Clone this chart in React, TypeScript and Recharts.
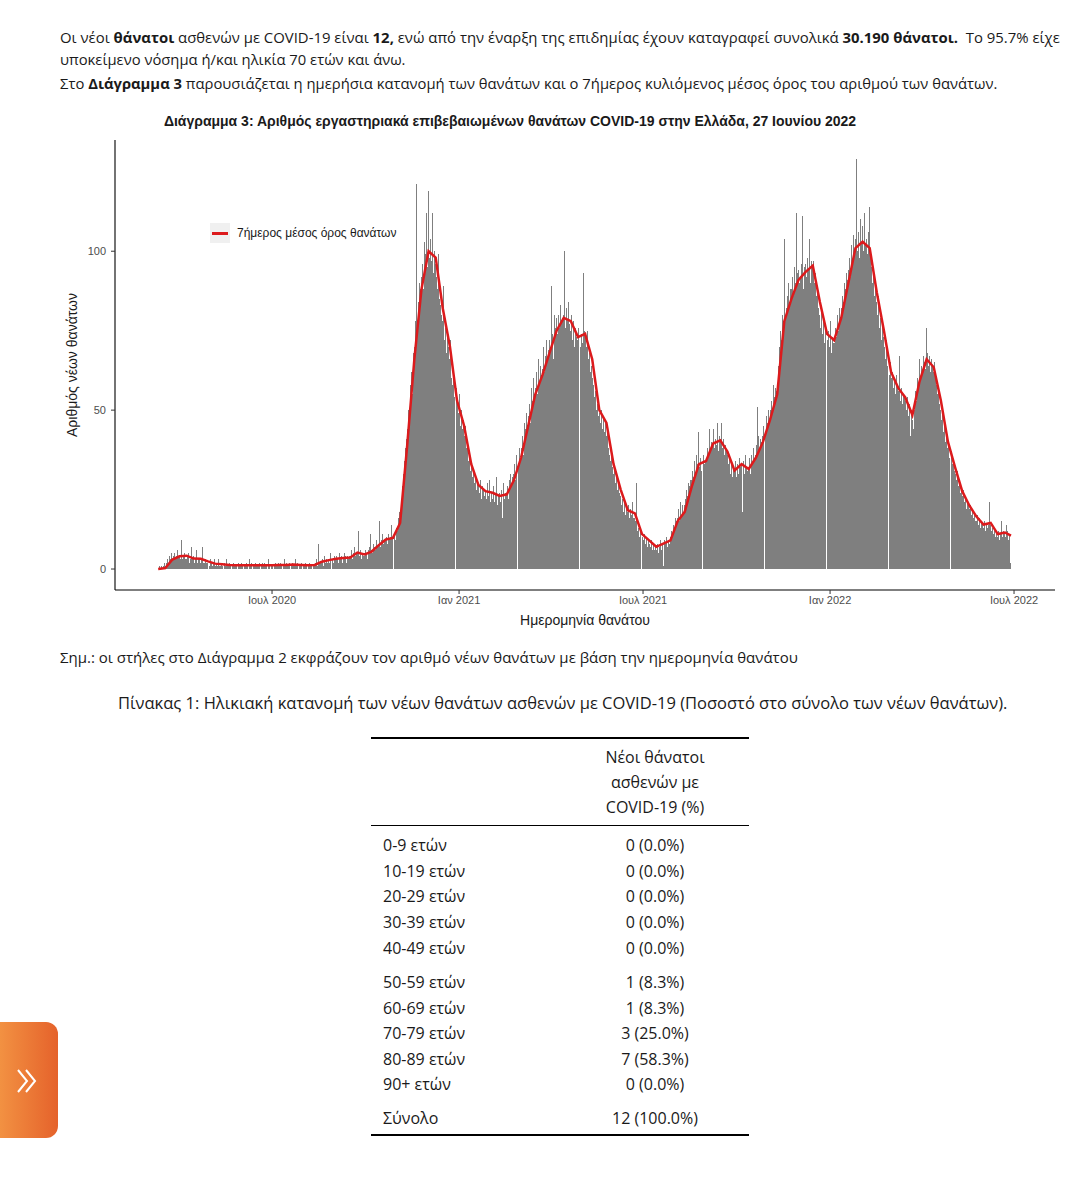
import { Bar, ComposedChart, Line, XAxis, YAxis } from "recharts";

// daily new deaths, one row per week, starting 11 March 2020
const dailyDeaths: number[] = [
  0, 1, 0, 1, 0, 1, 2,
  1, 2, 3, 2, 4, 3, 5,
  3, 4, 5, 3, 4, 6, 4,
  4, 3, 9, 3, 4, 5, 3,
  3, 4, 5, 2, 3, 7, 3,
  4, 2, 3, 6, 2, 3, 3,
  2, 3, 7, 2, 2, 3, 2,
  2, 1, 3, 2, 1, 2, 3,
  1, 2, 1, 3, 1, 1, 2,
  1, 0, 2, 1, 3, 1, 1,
  2, 1, 0, 1, 2, 1, 1,
  1, 0, 2, 1, 1, 2, 1,
  0, 1, 1, 2, 1, 0, 3,
  1, 2, 0, 1, 1, 2, 1,
  1, 1, 2, 0, 1, 2, 1,
  2, 1, 1, 0, 3, 1, 1,
  1, 0, 1, 2, 1, 1, 2,
  1, 2, 1, 0, 1, 3, 1,
  2, 1, 1, 2, 0, 1, 2,
  1, 1, 3, 1, 2, 0, 1,
  1, 2, 0, 1, 1, 2, 1,
  0, 1, 2, 1, 1, 0, 1,
  1, 2, 3, 1, 8, 2, 2,
  2, 3, 1, 4, 2, 3, 2,
  3, 2, 5, 3, 2, 4, 3,
  4, 3, 2, 5, 3, 4, 2,
  3, 5, 4, 2, 4, 3, 4,
  4, 6, 3, 5, 7, 4, 5,
  5, 12, 4, 6, 3, 5, 4,
  4, 6, 5, 3, 6, 7, 11,
  6, 5, 8, 7, 6, 9, 7,
  8, 15, 7, 9, 11, 8, 9,
  9, 10, 8, 11, 9, 10, 14,
  10, 11, 9, 13, 12, 16, 18,
  18, 22, 26, 30, 34, 38, 41,
  44, 50, 47, 58, 62, 55, 68,
  70, 78, 121, 74, 84, 90, 88,
  92, 96, 88, 103, 99, 112, 95,
  119, 98, 104, 97, 112, 93, 100,
  96, 92, 88, 99, 85, 83, 80,
  78, 89, 72, 76, 68, 74, 70,
  66, 72, 60, 58, 63, 54, 57,
  52, 49, 55, 45, 50, 44, 47,
  42, 45, 38, 40, 34, 36, 31,
  33, 29, 31, 27, 30, 25, 28,
  27, 24, 28, 22, 26, 25, 23,
  25, 22, 27, 23, 28, 21, 24,
  22, 26, 21, 24, 29, 20, 23,
  24, 21, 25, 16, 27, 22, 24,
  24, 26, 22, 28, 30, 27, 29,
  30, 33, 28, 36, 32, 38, 35,
  38, 42, 36, 46, 44, 49, 45,
  48, 52, 46, 57, 53, 60, 55,
  57, 62, 55, 66, 58, 64, 60,
  63, 70, 62, 67, 72, 65, 69,
  72, 70, 89, 74, 66, 80, 76,
  79, 74, 80, 76, 83, 78, 79,
  80, 100, 76, 82, 78, 84, 77,
  75, 80, 72, 78, 70, 76, 73,
  72, 76, 70, 74, 71, 93, 75,
  73, 70, 75, 66, 68, 62, 64,
  60, 58, 54, 56, 50, 52, 48,
  49, 46, 50, 44, 48, 43, 47,
  42, 44, 38, 36, 34, 37, 32,
  30, 32, 27, 29, 25, 28, 24,
  23, 20, 22, 18, 21, 17, 19,
  18, 20, 16, 19, 17, 21, 16,
  16, 15, 27, 12, 13, 10, 12,
  10, 9, 11, 8, 10, 7, 9,
  8, 7, 9, 6, 8, 6, 7,
  6, 8, 5, 7, 9, 6, 8,
  1, 9, 8, 10, 7, 9, 8,
  10, 12, 11, 14, 13, 16, 15,
  16, 19, 15, 21, 17, 20, 18,
  20, 22, 25, 23, 27, 26, 28,
  28, 31, 29, 34, 30, 36, 33,
  43, 32, 35, 31, 36, 33, 34,
  35, 38, 36, 44, 37, 40, 39,
  44, 38, 41, 39, 46, 37, 42,
  40, 46, 38, 41, 36, 39, 37,
  36, 33, 35, 30, 34, 29, 32,
  31, 34, 29, 33, 30, 35, 32,
  33, 18, 34, 30, 36, 32, 31,
  32, 35, 30, 36, 33, 38, 34,
  36, 39, 51, 42, 38, 41, 40,
  42, 45, 43, 48, 46, 50, 47,
  50, 53, 49, 58, 54, 57, 56,
  58, 64, 70, 75, 72, 80, 78,
  104, 80, 82, 86, 90, 84, 88,
  88, 92, 86, 95, 90, 112, 93,
  94, 90, 92, 96, 111, 88, 95,
  96, 92, 98, 94, 104, 90, 97,
  95, 97, 90, 93, 86, 88, 82,
  80, 76, 82, 74, 78, 71, 75,
  72, 75, 70, 78, 68, 73, 71,
  71, 76, 73, 80, 75, 82, 78,
  82, 86, 84, 90, 88, 93, 91,
  94, 98, 92, 102, 97, 105, 100,
  104, 129, 100, 106, 98, 110, 103,
  108, 100, 112, 102, 104, 99, 106,
  114, 98, 95, 90, 92, 86, 88,
  84, 80, 86, 76, 79, 72, 77,
  73, 70, 66, 72, 64, 61, 65,
  60, 62, 57, 59, 55, 61, 58,
  56, 67, 53, 57, 52, 55, 54,
  53, 50, 54, 48, 52, 42, 50,
  47, 44, 50, 56, 53, 60, 58,
  66, 60, 64, 62, 67, 65, 63,
  76, 68, 64, 67, 62, 66, 64,
  62, 65, 60, 58, 55, 57, 52,
  50, 47, 49, 43, 45, 40, 42,
  38, 40, 35, 37, 33, 34, 31,
  30, 28, 31, 26, 27, 24, 25,
  23, 25, 21, 22, 19, 21, 20,
  19, 20, 17, 18, 16, 18, 15,
  15, 17, 14, 16, 13, 15, 14,
  13, 15, 12, 14, 13, 14, 21,
  14, 12, 13, 11, 12, 10, 11,
  10, 12, 9, 11, 15, 10, 12,
  11, 10, 14, 12, 9, 11, 2,
];

// 7-day moving average, read every 7th day (last value = last day)
const weeklyAvg: number[] = [
  0, 0.3, 3.0, 4.0, 4.2, 3.3, 3.2, 2.4, 1.7, 1.5,
  1.3, 1.2, 1.2, 1.2, 1.2, 1.2, 1.2, 1.3, 1.3, 1.4,
  1.3, 1.2, 1.3, 2.3, 2.8, 3.2, 3.5, 3.6, 5.2, 4.6,
  5.5, 7.5, 9.3, 9.8, 14.5, 39, 66, 88, 100, 98,
  82, 70, 53, 45, 33, 26.5, 24.5, 24, 23, 23.5,
  28, 35, 45, 55, 61, 68, 75, 79, 78, 73,
  74, 66, 50, 46, 33, 25, 18.5, 17.5, 11, 9,
  7, 8, 9, 15, 18, 26, 33, 34, 39.5, 40.5,
  37, 31, 33, 31.5, 35, 40, 47, 55, 78, 85,
  91, 93.5, 95.5, 84, 74, 72, 79, 90, 101, 103,
  101, 87, 75, 62, 57, 54, 48.5, 59, 66, 63.5,
  53, 40, 32, 24.5, 20, 16.5, 14, 14.5, 11, 11.5,
  10.5,
];

// day index (0 = 11/03/2020) of the month ticks
const tickDays = [112, 296, 477, 661, 842];
const tickLabels = ["Ιουλ 2020", "Ιαν 2021", "Ιουλ 2021", "Ιαν 2022", "Ιουλ 2022"];
const yTicks = [0, 50, 100];

const ageGroups = [
  "0-9 ετών", "10-19 ετών", "20-29 ετών", "30-39 ετών", "40-49 ετών",
  "50-59 ετών", "60-69 ετών", "70-79 ετών", "80-89 ετών", "90+ ετών",
];
const ageDeaths = [
  "0 (0.0%)", "0 (0.0%)", "0 (0.0%)", "0 (0.0%)", "0 (0.0%)",
  "1 (8.3%)", "1 (8.3%)", "3 (25.0%)", "7 (58.3%)", "0 (0.0%)",
];
const totalDeaths = "12 (100.0%)";

const lastDay = dailyDeaths.length - 1;
const rows: { day: number; deaths: number; avg?: number }[] = dailyDeaths.map((v, i) => ({
  day: i,
  deaths: v,
}));
weeklyAvg.forEach((v, k) => {
  rows[Math.min(k * 7, lastDay)].avg = v;
});

const chartFont = '"Liberation Sans", Arial, sans-serif';
const textFont = '"Open Sans", "Noto Sans", sans-serif';

const abs = (left: number, top: number): React.CSSProperties => ({
  position: "absolute",
  left,
  top,
});

// one-pixel daily bar snapped to the pixel grid
const DayBar = (p: any) => {
  const { x, y, width, height, fill } = p;
  if (!height || height <= 0) return <g />;
  const cx = x + width / 2;
  return (
    <rect x={Math.round(cx - 0.5)} y={y} width={1} height={height} fill={fill} shapeRendering="crispEdges" />
  );
};

export default function App() {
  const rowTops = [835, 861, 886, 912, 938, 972, 998, 1023, 1049, 1074];
  return (
    <div style={{ position: "absolute", left: 0, top: 0, width: 1080, height: 1200, background: "#fff", color: "#1a1a1a" }}>
      <div style={{ ...abs(60, 26), fontFamily: textFont, fontSize: 14.9, lineHeight: "22px", whiteSpace: "pre" }}>
        Οι νέοι <b>θάνατοι</b> ασθενών με COVID-19 είναι <b>12,</b> ενώ από την έναρξη της επιδημίας έχουν καταγραφεί συνολικά <b>30.190 θάνατοι.</b>  Το 95.7% είχε
      </div>
      <div style={{ ...abs(60, 48), fontFamily: textFont, fontSize: 14.8, lineHeight: "22px", whiteSpace: "pre" }}>
        υποκείμενο νόσημα ή/και ηλικία 70 ετών και άνω.
      </div>
      <div style={{ ...abs(60, 72), fontFamily: textFont, fontSize: 14.8, lineHeight: "22px", whiteSpace: "pre" }}>
        Στο <b>Διάγραμμα 3</b> παρουσιάζεται η ημερήσια κατανομή των θανάτων και ο 7ήμερος κυλιόμενος μέσος όρος του αριθμού των θανάτων.
      </div>

      <div style={{ ...abs(0, 112), width: 1020, textAlign: "center", fontFamily: chartFont, fontSize: 14, fontWeight: "bold", lineHeight: "18px" }}>
        Διάγραμμα 3: Αριθμός εργαστηριακά επιβεβαιωμένων θανάτων COVID-19 στην Ελλάδα, 27 Ιουνίου 2022
      </div>

      <div style={abs(0, 100)}>
        <ComposedChart
          width={1080}
          height={540}
          data={rows}
          margin={{ top: 40, right: 25, bottom: 20, left: 55 }}
          barCategoryGap={0}
          barGap={0}
        >
          <XAxis
            dataKey="day"
            type="number"
            domain={[-42.5, 882.3]}
            allowDataOverflow
            ticks={tickDays}
            tickFormatter={(d: number) => tickLabels[tickDays.indexOf(d)]}
            height={30}
            tickSize={4}
            tickMargin={2}
            axisLine={{ stroke: "#000", strokeWidth: 1.1 }}
            tickLine={{ stroke: "#333" }}
            tick={{ fill: "#4d4d4d", fontSize: 11, fontFamily: chartFont }}
          />
          <YAxis
            type="number"
            domain={[-6.6, 135]}
            allowDataOverflow
            ticks={yTicks}
            width={60}
            tickSize={4}
            tickMargin={5}
            axisLine={{ stroke: "#000", strokeWidth: 1.1 }}
            tickLine={{ stroke: "#333" }}
            tick={{ fill: "#4d4d4d", fontSize: 11, fontFamily: chartFont }}
          />
          <Bar dataKey="deaths" fill="#7f7f7f" barSize={1} shape={DayBar} isAnimationActive={false} />
          <Line
            dataKey="avg"
            type="linear"
            stroke="#dc1a1c"
            strokeWidth={2.5}
            dot={false}
            connectNulls
            isAnimationActive={false}
          />
        </ComposedChart>
      </div>

      <div style={{ ...abs(210, 223), width: 20, height: 20, background: "#f0f0f0" }}>
        <div style={{ position: "absolute", left: 2, top: 9, width: 16, height: 2.5, background: "#dc1a1c" }} />
      </div>
      <div style={{ ...abs(237, 225), fontFamily: chartFont, fontSize: 12, lineHeight: "16px", color: "#1a1a1a" }}>
        7ήμερος μέσος όρος θανάτων
      </div>

      <div style={{ ...abs(0, 611), width: 1170, textAlign: "center", fontFamily: chartFont, fontSize: 14, lineHeight: "18px" }}>
        Ημερομηνία θανάτου
      </div>
      <div style={{ ...abs(72, 365), fontFamily: chartFont, fontSize: 14, lineHeight: "18px", whiteSpace: "pre", transform: "translate(-50%, -50%) rotate(-90deg)" }}>
        Αριθμός νέων θανάτων
      </div>

      <div style={{ ...abs(60, 646), fontFamily: textFont, fontSize: 15, lineHeight: "22px", whiteSpace: "pre" }}>
        Σημ.: οι στήλες στο Διάγραμμα 2 εκφράζουν τον αριθμό νέων θανάτων με βάση την ημερομηνία θανάτου
      </div>
      <div style={{ ...abs(118, 691), fontFamily: textFont, fontSize: 16.5, lineHeight: "24px", whiteSpace: "pre" }}>
        Πίνακας 1: Ηλικιακή κατανομή των νέων θανάτων ασθενών με COVID-19 (Ποσοστό στο σύνολο των νέων θανάτων).
      </div>

      <div style={{ ...abs(371, 737), width: 378, height: 1.5, background: "#000" }} />
      <div style={{ ...abs(560, 745), width: 190, textAlign: "center", fontFamily: textFont, fontSize: 16, lineHeight: "25px" }}>
        Νέοι θάνατοι
        <br />
        ασθενών με
        <br />
        COVID-19 (%)
      </div>
      <div style={{ ...abs(371, 825), width: 378, height: 1, background: "#000" }} />
      {ageGroups.map((g, i) => (
        <div key={g} style={{ ...abs(383, rowTops[i]), width: 366, fontFamily: textFont, fontSize: 16, lineHeight: "20px" }}>
          <span>{g}</span>
          <span style={{ position: "absolute", left: 177, width: 190, textAlign: "center" }}>{ageDeaths[i]}</span>
        </div>
      ))}
      <div style={{ ...abs(383, 1108), width: 366, fontFamily: textFont, fontSize: 16, lineHeight: "20px" }}>
        <span>Σύνολο</span>
        <span style={{ position: "absolute", left: 177, width: 190, textAlign: "center" }}>{totalDeaths}</span>
      </div>
      <div style={{ ...abs(371, 1134), width: 378, height: 1.5, background: "#000" }} />

      <div
        style={{
          ...abs(0, 1022),
          width: 58,
          height: 116,
          borderRadius: "0 12px 12px 0",
          background: "linear-gradient(90deg, #f29142, #e5622b)",
        }}
      >
        <svg width={58} height={116} style={{ position: "absolute", left: 0, top: 0 }}>
          <polyline points="18,70 27,59 18,48" fill="none" stroke="#fff" strokeWidth={2} />
          <polyline points="26,70 35,59 26,48" fill="none" stroke="#fff" strokeWidth={2} />
        </svg>
      </div>
    </div>
  );
}
